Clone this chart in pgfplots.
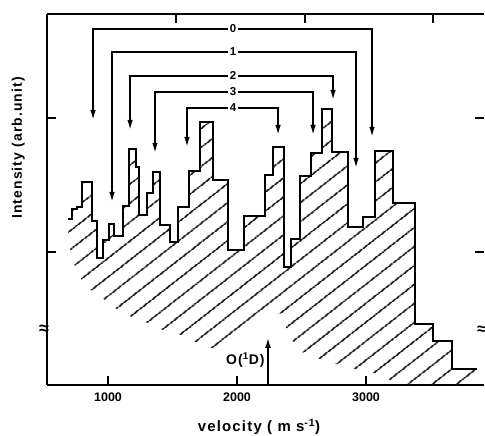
\documentclass[border=0pt]{standalone}
\usepackage{fontspec}
\setmainfont{Liberation Sans}
\newfontfamily\labfont[LetterSpace=8]{Liberation Sans}
\usepackage{pgfplots}
\usepackage{pgfplotstable}
\pgfplotsset{compat=1.18}
\usetikzlibrary{arrows.meta,patterns.meta}
\usepgfplotslibrary{fillbetween}

% histogram: left edge of each step (m/s) and intensity (arb.)
\pgfplotstableread{
v    h
690  166
721  176
760  178
799  203
876  164
915  127
962  145
1008 161
1047 149
1117 179
1163 236
1217 218
1241 170
1303 192
1349 213
1403 160
1481 143
1543 178
1628 214
1713 263
1814 205
1930 135
2054 169
2217 210
2279 238
2364 118
2419 146
2488 209
2574 232
2659 276
2736 233
2860 158
2977 168
3070 234
3209 182
3380 61
3519 44
3666 16
3860 16
}\histo

% lower edge of the hatched area
\pgfplotstableread{
v    h
690  145
721  127
760  113
806  103
884  93
977  85
1054 77
1147 70
1248 65
1364 59
1457 53
1597 49
1674 43
1791 37
1969 37
2194 67
2333 72
2411 47
2504 33
2620 27
2837 18
3054 12
3186 5
3325 0
3860 0
}\base

\begin{document}
\begin{tikzpicture}[font=\bfseries]
\begin{axis}[
    at={(0,0)}, anchor=south west,
    scale only axis, width=437bp, height=371bp,
    xmin=527, xmax=3914, ymin=0, ymax=371,
    axis x line*=box, axis y line*=left,
    axis line style={-, line width=1.6bp},
    xtick={1000,2000,3000}, xticklabels={1000,2000,3000},
    xtick pos=left,
    ytick={133,267}, yticklabels={},
    ytick pos=left,
    tick align=inside,
    major tick length=9bp,
    every tick/.style={black, line width=1.6bp},
    xticklabel style={font=\bfseries\fontsize{12.5}{14}\selectfont, yshift=-4bp},
    clip=false,
]
\addplot[name path=top, const plot, draw=none] table[x=v, y=h] {\histo};
\addplot[name path=base, draw=none] table[x=v, y=h] {\base};
\addplot[pattern={Lines[angle=38,distance=15bp,line width=1.6bp]}, draw=none]
    fill between[of=top and base];
\addplot[const plot, line width=2.3bp, black] table[x=v, y=h] {\histo};

% vibrational level brackets
\tikzset{br/.style={line width=1.6bp, {Latex[length=10bp,width=5.5bp]}-{Latex[length=10bp,width=5.5bp]}},
         lv/.style={fill=white, inner sep=1.5bp, font=\bfseries\fontsize{11.5}{12}\selectfont}}
\draw[br] (axis cs:884,265) |- (axis cs:3046,356) -- (axis cs:3046,248);
\draw[br] (axis cs:1031,183) |- (axis cs:2922,333) -- (axis cs:2922,217);
\draw[br] (axis cs:1171,255) |- (axis cs:2744,309) -- (axis cs:2744,285);
\draw[br] (axis cs:1364,232) |- (axis cs:2589,293) -- (axis cs:2589,250);
\draw[br] (axis cs:1612,238) |- (axis cs:2318,277) -- (axis cs:2318,250);
\node[lv] at (axis cs:1969,356) {0};
\node[lv] at (axis cs:1969,333) {1};
\node[lv] at (axis cs:1969,309) {2};
\node[lv] at (axis cs:1969,293) {3};
\node[lv] at (axis cs:1969,277) {4};

% O(1D) threshold
\draw[line width=1.6bp, -{Latex[open,length=10bp,width=6bp]}] (axis cs:2240,0) -- (axis cs:2240,47);
\node[anchor=east, inner sep=0, font=\labfont\bfseries\fontsize{14}{15}\selectfont]
    at (axis cs:2215,25) {O(\textsuperscript{1}D)};

% axis break marks
\node[inner sep=0, font=\bfseries\fontsize{18}{18}\selectfont] at (axis cs:505,55) {≈};
\node[inner sep=0, font=\bfseries\fontsize{16}{16}\selectfont] at (axis cs:3895,55) {≈};

\node[rotate=90, font=\labfont\bfseries\fontsize{14}{16}\selectfont]
    at (rel axis cs:-0.066,0.639) {Intensity (arb.unit)};
\node[font=\labfont\bfseries\fontsize{15}{17}\selectfont]
    at (rel axis cs:0.485,-0.113) {velocity ( m s\textsuperscript{-1})};
\end{axis}

% top and right ticks
\begin{axis}[
    at={(0,0)}, anchor=south west,
    scale only axis, width=437bp, height=371bp,
    xmin=527, xmax=3914, ymin=0, ymax=371,
    axis x line*=top, axis y line*=right,
    axis line style={draw=none},
    xtick={1527,2527,3519}, xticklabels={},
    ytick={133,267}, yticklabels={},
    xtick pos=right, ytick pos=right,
    tick align=inside, major tick length=9bp,
    every tick/.style={black, line width=1.6bp},
]
\end{axis}

\pgfresetboundingbox
\path[use as bounding box] (-47bp,-51bp) rectangle (438bp,385bp);
\end{tikzpicture}
\end{document}
